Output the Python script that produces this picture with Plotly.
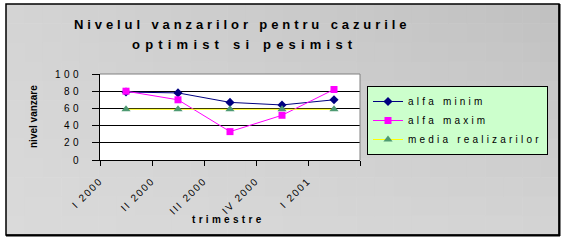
import plotly.graph_objects as go
import numpy as np

categories = ["I 2000", "II 2000", "III 2000", "IV 2000", "I 2001"]
alfa_minim = [79, 78, 67, 64, 70]
alfa_maxim = [80, 70, 33, 52, 82]
media_realizarilor = [59, 59, 59, 59, 59]
y_ticks = [0, 20, 40, 60, 80, 100]

W, H = 566, 240
L, R, T, B = 100, 206, 74, 80
PW, PH = W - L - R, H - T - B
FONT = "Liberation Sans, Arial, sans-serif"


def px_x(p):
    return (p - L) / PW


def px_y(p):
    return (H - B - p) / PH


def sp(text, ls):
    return f'<span style="letter-spacing:{ls}px">{text}</span>'


xpos = np.arange(len(categories)) + 0.5

fig = go.Figure()
fig.add_trace(go.Scatter(
    x=xpos, y=alfa_minim, name=sp("alfa minim", 3.2), mode="lines+markers",
    line=dict(color="#000080", width=1),
    marker=dict(symbol="diamond", size=7, color="#000080")))
fig.add_trace(go.Scatter(
    x=xpos, y=alfa_maxim, name=sp("alfa maxim", 3.2), mode="lines+markers",
    line=dict(color="#FF00FF", width=1),
    marker=dict(symbol="square", size=7, color="#FF00FF")))
fig.add_trace(go.Scatter(
    x=xpos, y=media_realizarilor, name=sp("media realizarilor", 3.2), mode="lines+markers",
    line=dict(color="#FFFF00", width=1),
    marker=dict(symbol="triangle-up", size=8, color="#4E9A72")))

shapes = []
# gradient background inside the outer frame
x0p, x1p, y0p, y1p = 6, 559, 4, 235
nx, ny = 30, 12
for i in range(nx):
    for j in range(ny):
        u = (i + 0.5) / nx
        v = (j + 0.5) / ny
        c = int(round(218 - 6 * (1 - v) - 20 * u + 14 * u * v))
        xa = x0p + (x1p - x0p) * i / nx
        xb = x0p + (x1p - x0p) * (i + 1) / nx
        ya = y0p + (y1p - y0p) * j / ny
        yb = y0p + (y1p - y0p) * (j + 1) / ny
        shapes.append(dict(type="rect", xref="paper", yref="paper", layer="below",
                           x0=px_x(xa), x1=px_x(xb + 0.6), y0=px_y(ya), y1=px_y(yb + 0.6),
                           line=dict(width=0), fillcolor=f"rgb({c},{c},{c})"))
# white plot area
shapes.append(dict(type="rect", xref="paper", yref="paper", layer="below",
                   x0=0, x1=1, y0=0, y1=1, line=dict(width=0), fillcolor="white"))
# outer frame
shapes.append(dict(type="rect", xref="paper", yref="paper", layer="above",
                   x0=px_x(x0p), x1=px_x(x1p), y0=px_y(y0p), y1=px_y(y1p),
                   line=dict(color="black", width=1.5)))
shapes.append(dict(type="line", xref="paper", yref="paper", layer="above",
                   x0=px_x(x1p + 0.5), x1=px_x(x1p + 0.5), y0=px_y(y0p), y1=px_y(y1p + 1),
                   line=dict(color="black", width=2)))
shapes.append(dict(type="line", xref="paper", yref="paper", layer="above",
                   x0=px_x(x0p), x1=px_x(x1p + 1), y0=px_y(y1p + 0.5), y1=px_y(y1p + 0.5),
                   line=dict(color="black", width=2)))
# gray top/right plot border
shapes.append(dict(type="line", xref="paper", yref="paper", layer="above",
                   x0=0, x1=1, y0=1, y1=1, line=dict(color="#808080", width=1)))
shapes.append(dict(type="line", xref="paper", yref="paper", layer="above",
                   x0=1, x1=1, y0=0, y1=1, line=dict(color="#808080", width=1)))

annotations = [
    dict(text=sp("<b>Nivelul vanzarilor pentru cazurile</b>", 3.9), xref="paper", yref="paper",
         x=px_x(242), y=px_y(24), showarrow=False, xanchor="center", yanchor="middle",
         font=dict(family=FONT, size=13, color="black")),
    dict(text=sp("<b>optimist si pesimist</b>", 5.2), xref="paper", yref="paper",
         x=px_x(244), y=px_y(44), showarrow=False, xanchor="center", yanchor="middle",
         font=dict(family=FONT, size=13, color="black")),
    dict(text="<b>nivel vanzare</b>", xref="paper", yref="paper", textangle=-90,
         x=px_x(33), y=px_y(117), showarrow=False, xanchor="center", yanchor="middle",
         font=dict(family=FONT, size=10, color="black")),
    dict(text=sp("<b>trimestre</b>", 3.3), xref="paper", yref="paper",
         x=px_x(228), y=px_y(219), showarrow=False, xanchor="center", yanchor="middle",
         font=dict(family=FONT, size=10, color="black")),
]

fig.update_layout(
    width=W, height=H,
    margin=dict(l=L, r=R, t=T, b=B, autoexpand=False),
    paper_bgcolor="white", plot_bgcolor="white",
    font=dict(family=FONT, size=10, color="black"),
    showlegend=True,
    legend=dict(x=px_x(548), y=px_y(86), xanchor="right", yanchor="top",
                bgcolor="#CCFFCC", bordercolor="black", borderwidth=1,
                font=dict(family=FONT, size=10, color="black"),
                itemwidth=30, entrywidth=130, tracegroupgap=0),
    shapes=shapes, annotations=annotations,
    xaxis=dict(range=[0, len(categories)], tickmode="array",
               tickvals=list(range(len(categories) + 1)),
               ticktext=[sp(c, 1.8) for c in categories] + [""],
               tickangle=-45, ticks="outside", ticklen=5, tickcolor="black",
               ticklabelstandoff=5,
               showline=True, linecolor="black", linewidth=1, showgrid=False,
               zeroline=False, fixedrange=True,
               tickfont=dict(family=FONT, size=10, color="black")),
    yaxis=dict(range=[0, 100], tickmode="array", tickvals=y_ticks,
               ticktext=[sp(str(t), 3.4) for t in y_ticks],
               ticks="outside", ticklen=7, tickcolor="black",
               ticklabelstandoff=8,
               showline=True, linecolor="black", linewidth=1,
               showgrid=True, gridcolor="black", gridwidth=1, zeroline=False,
               tickfont=dict(family=FONT, size=10, color="black")),
)

fig.write_html("out.html")
